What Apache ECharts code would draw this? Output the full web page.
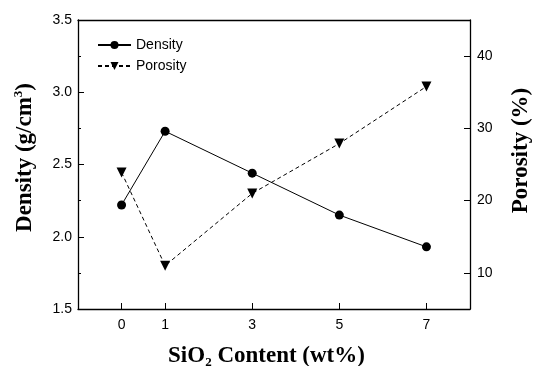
<!DOCTYPE html>
<html>
<head>
<meta charset="utf-8">
<script src="https://cdn.jsdelivr.net/npm/echarts@6/dist/echarts.min.js"></script>
<style>html,body{margin:0;padding:0;background:#fff}#c{width:534px;height:366px}</style>
</head>
<body>
<div id="c"></div>
<script>
const sio2 = [0, 1, 3, 5, 7];
const density = [2.22, 2.73, 2.44, 2.15, 1.93];
const porosity = [23.9, 11.0, 21.0, 27.9, 35.8];
const xTicks = [0, 1, 3, 5, 7];
const porosityTicks = [10, 20, 30, 40];

const chart = echarts.init(document.getElementById('c'));
const sans = 'Liberation Sans';
const serif = 'Liberation Serif';
const titleBase = { fontFamily: serif, fontWeight: 'bold', fontSize: 23, color: '#000' };
chart.setOption({
  animation: false,
  backgroundColor: '#fff',
  grid: { left: 78, right: 64, top: 20, bottom: 57, outerBoundsMode: 'none', containLabel: false },
  legend: {
    orient: 'vertical', left: 92, top: 33, itemWidth: 33, itemHeight: 10, itemGap: 7,
    textStyle: { fontFamily: sans, fontSize: 14, color: '#000' },
    data: ['Density', 'Porosity']
  },
  xAxis: [{
    type: 'value', min: -1, max: 8,
    name: '{a|SiO}{s|2}{a| Content (wt%)}', nameLocation: 'middle', nameGap: 34,
    nameTextStyle: { padding: [0, 15, 0, 0], rich: {
      a: titleBase,
      s: Object.assign({}, titleBase, { fontSize: 13, padding: [13, 0, 0, 0] })
    } },
    axisLine: { onZero: false, lineStyle: { color: '#000', width: 1.3 } },
    axisTick: { inside: true, length: 6, customValues: xTicks, lineStyle: { color: '#000' } },
    axisLabel: { customValues: xTicks, fontFamily: sans, fontSize: 14, color: '#000', margin: 9 },
    splitLine: { show: false }
  }, {
    type: 'value', min: -1, max: 8, position: 'top',
    axisLine: { show: true, onZero: false, lineStyle: { color: '#000', width: 1.3 } },
    axisTick: { show: false }, axisLabel: { show: false }, splitLine: { show: false }
  }],
  yAxis: [{
    type: 'value', min: 1.5, max: 3.5, interval: 0.5, position: 'left',
    name: '{a|Density (g/cm}{p|3}{a|)}', nameLocation: 'middle', nameGap: 40, nameRotate: 90,
    nameTextStyle: { padding: [0, 0, 0, 14], rich: {
      a: titleBase,
      p: Object.assign({}, titleBase, { fontSize: 13, padding: [0, 0, 13, 0] })
    } },
    axisLine: { show: true, onZero: false, lineStyle: { color: '#000', width: 1.3 } },
    axisTick: { inside: true, length: 6, lineStyle: { color: '#000' } },
    minorTick: { show: true, splitNumber: 2, length: 3, lineStyle: { color: '#000' } },
    axisLabel: { fontFamily: sans, fontSize: 14, color: '#000', margin: 6, formatter: v => v.toFixed(1) },
    splitLine: { show: false }
  }, {
    type: 'value', min: 5, max: 45, position: 'right',
    name: 'Porosity (%)', nameLocation: 'middle', nameGap: 40, nameRotate: 90,
    nameTextStyle: Object.assign({}, titleBase, { padding: [0, 0, 0, 28] }),
    axisLine: { show: true, onZero: false, lineStyle: { color: '#000', width: 1.3 } },
    axisTick: { inside: true, length: 6, customValues: porosityTicks, lineStyle: { color: '#000' } },
    axisLabel: { customValues: porosityTicks, fontFamily: sans, fontSize: 14, color: '#000', margin: 7 },
    splitLine: { show: false }
  }],
  series: [{
    name: 'Density', type: 'line', xAxisIndex: 0, yAxisIndex: 0,
    data: sio2.map((x, i) => [x, density[i]]),
    symbol: 'circle', symbolSize: 9,
    itemStyle: { color: '#000' },
    lineStyle: { color: '#000', width: 1 }
  }, {
    name: 'Porosity', type: 'line', xAxisIndex: 0, yAxisIndex: 1,
    data: sio2.map((x, i) => [x, porosity[i]]),
    symbol: 'triangle', symbolRotate: 180, symbolSize: 10,
    itemStyle: { color: '#000' },
    lineStyle: { color: '#000', width: 1, type: [4, 3] }
  }]
});
</script>
</body>
</html>
